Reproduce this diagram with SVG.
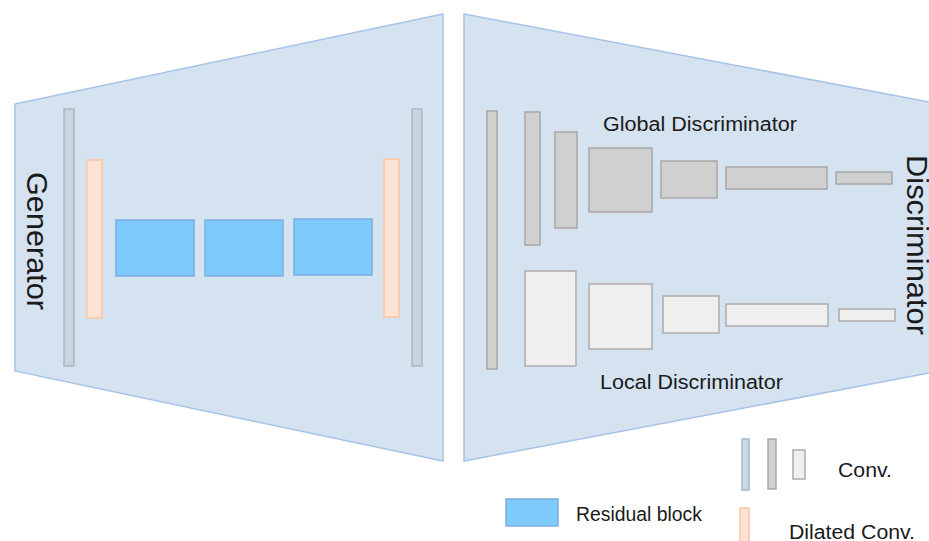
<svg xmlns="http://www.w3.org/2000/svg" width="929" height="541" viewBox="0 0 929 541">
<style>
.panel{fill:#d5e2f0;stroke:#a6c3e8;stroke-width:1.5}
.gconv{fill:#c9d5de;stroke:#a9b7c3;stroke-width:1.5}
.dil{fill:#fde3d4;stroke:#fcc6a3;stroke-width:1.5}
.res{fill:#7fcafd;stroke:#7aaee0;stroke-width:1.5}
.dg{fill:#d0d0d0;stroke:#aba6a6;stroke-width:1.5}
.dl{fill:#efefef;stroke:#b0abab;stroke-width:1.5}
.t{font-family:"Liberation Sans","Noto Sans",Arial,sans-serif;fill:#1a1a1a}
.big{font-size:30px}
.mid{font-size:20px}
</style>
<rect width="929" height="541" fill="#ffffff"/>
<g id="generator">
<polygon class="panel" points="15,104 443,14 443,461 15,371"/>
<text class="t big" transform="translate(27,241) rotate(90)" text-anchor="middle" textLength="138" lengthAdjust="spacingAndGlyphs">Generator</text>
<rect id="g-conv-in" class="gconv" x="64" y="109" width="10" height="257"/>
<rect id="g-dil-1" class="dil" x="87" y="160" width="15" height="158"/>
<rect id="res-1" class="res" x="116" y="220" width="78" height="56"/>
<rect id="res-2" class="res" x="205" y="220" width="78" height="56"/>
<rect id="res-3" class="res" x="294" y="219" width="78" height="56"/>
<rect id="g-dil-2" class="dil" x="384" y="159" width="15" height="158"/>
<rect id="g-conv-out" class="gconv" x="412" y="109" width="10" height="257"/>
</g>
<g id="discriminator">
<polygon class="panel" points="464,14 945,105 945,370 464,461"/>
<rect id="d-conv-in" class="dg" x="487" y="111" width="10" height="258"/>
<g id="global-discriminator">
<rect class="dg" x="525" y="112" width="15" height="133"/>
<rect class="dg" x="555" y="132" width="22" height="96"/>
<rect class="dg" x="589" y="148" width="63" height="64"/>
<rect class="dg" x="661" y="161" width="56" height="37"/>
<rect class="dg" x="726" y="167" width="101" height="22"/>
<rect class="dg" x="836" y="172" width="56" height="12"/>
<text class="t mid" x="603" y="131" textLength="194" lengthAdjust="spacingAndGlyphs">Global Discriminator</text>
</g>
<g id="local-discriminator">
<rect class="dl" x="525" y="271" width="51" height="95"/>
<rect class="dl" x="589" y="284" width="63" height="65"/>
<rect class="dl" x="663" y="296" width="56" height="37"/>
<rect class="dl" x="726" y="304" width="102" height="22"/>
<rect class="dl" x="839" y="309" width="56" height="12"/>
<text class="t mid" x="600" y="389" textLength="183" lengthAdjust="spacingAndGlyphs">Local Discriminator</text>
</g>
<text class="t big" transform="translate(907,245) rotate(90)" text-anchor="middle" textLength="180" lengthAdjust="spacingAndGlyphs">Discriminator</text>
</g>
<g id="legend">
<g id="legend-conv">
<rect class="gconv" x="742" y="439" width="7" height="51" style="fill:#c9d9e4;stroke:#9fb9cd"/>
<rect class="dg" x="768" y="439" width="8" height="50"/>
<rect class="dl" x="793" y="450" width="12" height="29"/>
<text class="t mid" x="838" y="477" textLength="54" lengthAdjust="spacingAndGlyphs">Conv.</text>
</g>
<g id="legend-res">
<rect class="res" x="506" y="499" width="52" height="27"/>
<text class="t mid" x="576" y="521" textLength="126" lengthAdjust="spacingAndGlyphs">Residual block</text>
</g>
<g id="legend-dil">
<rect class="dil" x="740" y="508" width="9" height="45"/>
<text class="t mid" x="789" y="539" textLength="126" lengthAdjust="spacingAndGlyphs">Dilated Conv.</text>
</g>
</g>
<g id="connectors"/>
</svg>
